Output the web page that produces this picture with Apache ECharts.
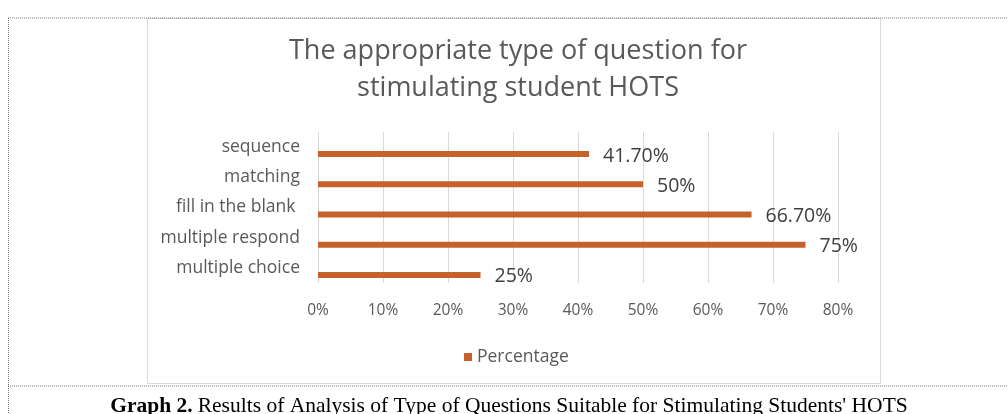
<!DOCTYPE html>
<html>
<head>
<meta charset="utf-8">
<style>
  html, body { margin: 0; padding: 0; background: #fff; }
  #main { width: 1008px; height: 414px; }
</style>
<script src="https://cdn.jsdelivr.net/npm/echarts@6/dist/echarts.min.js"></script>
</head>
<body>
<div id="main"></div>
<script>
// data (bottom to top, as the category axis runs)
var categories = ['multiple choice', 'multiple respond', 'fill in the blank ', 'matching', 'sequence'];
var percentages = [25, 75, 66.7, 50, 41.7];
var valueLabels = ['25%', '75%', '66.70%', '50%', '41.70%'];
var xTicks = [0, 10, 20, 30, 40, 50, 60, 70, 80];
var seriesName = 'Percentage';

var font = '"Open Sans", Lato, sans-serif';
var serif = '"Liberation Serif", serif';
var gray = '#595959';
var barColor = '#c5612a';

var myChart = echarts.init(document.getElementById('main'));

var option = {
	backgroundColor : '#fff',
	animation : false,
	title : [ {
		text : 'The appropriate type of question for\nstimulating student HOTS',
		left : 513,
		top : 28,
		textAlign : 'center',
		textStyle : {
			fontFamily : font,
			fontSize : 27,
			fontWeight : 'normal',
			lineHeight : 37,
			color : gray
		}
	}, {
		text : '{b|Graph 2.} {n|Results of Analysis of Type of Questions Suitable for Stimulating Students\' HOTS}',
		left : 504,
		top : 390,
		textAlign : 'center',
		textStyle : {
			fontWeight : 'normal',
			rich : {
				b : { fontFamily : serif, fontSize : 21.5, fontWeight : 'bold', color : '#000' },
				n : { fontFamily : serif, fontSize : 21.5, fontWeight : 'normal', color : '#000' }
			}
		}
	} ],
	legend : {
		data : [ seriesName ],
		left : 459,
		top : 343,
		icon : 'rect',
		itemWidth : 8,
		itemHeight : 8,
		itemGap : 4,
		textStyle : { fontFamily : font, fontSize : 17.5, color : gray }
	},
	graphic : [ {
		type : 'rect',
		shape : { x : 147.5, y : 18.5, width : 733, height : 365 },
		style : { fill : null, stroke : '#d9d9d9', lineWidth : 1 },
		z : -1
	}, {
		type : 'line',
		shape : { x1 : 8, y1 : 18, x2 : 1008, y2 : 18 },
		style : { stroke : '#777', lineWidth : 1, lineDash : [ 1, 1 ] }
	}, {
		type : 'line',
		shape : { x1 : 8, y1 : 386, x2 : 1008, y2 : 386 },
		style : { stroke : '#777', lineWidth : 1, lineDash : [ 1, 1 ] }
	}, {
		type : 'line',
		shape : { x1 : 8.5, y1 : 18, x2 : 8.5, y2 : 414 },
		style : { stroke : '#777', lineWidth : 1, lineDash : [ 1, 1 ] }
	} ],
	grid : [ {
		left : 318, width : 520, top : 132, height : 151
	}, {
		left : 318, width : 520, top : 139, height : 151
	} ],
	xAxis : [ {
		gridIndex : 0,
		type : 'value',
		min : xTicks[0],
		max : xTicks[xTicks.length - 1],
		interval : 10,
		axisLine : { show : false },
		axisTick : { show : false },
		splitLine : { lineStyle : { color : '#d9d9d9' } },
		axisLabel : {
			formatter : '{value}%',
			margin : 20,
			fontFamily : font,
			fontSize : 15.5,
			color : gray
		}
	}, {
		gridIndex : 1,
		type : 'value',
		min : xTicks[0],
		max : xTicks[xTicks.length - 1],
		show : false
	} ],
	yAxis : [ {
		gridIndex : 0,
		type : 'category',
		data : categories,
		axisLine : { show : false },
		axisTick : { show : false },
		axisLabel : {
			margin : 18,
			fontFamily : font,
			fontSize : 17.5,
			color : gray
		}
	}, {
		gridIndex : 1,
		type : 'category',
		data : categories,
		show : false
	} ],
	series : [ {
		name : seriesName,
		type : 'bar',
		xAxisIndex : 1,
		yAxisIndex : 1,
		barWidth : 6,
		itemStyle : { color : barColor },
		label : {
			show : true,
			position : 'right',
			distance : 14,
			offset : [ 0, 2 ],
			fontFamily : font,
			fontSize : 19.5,
			color : '#404040',
			formatter : function(p) {
				return valueLabels[p.dataIndex];
			}
		},
		data : percentages
	} ]
};
myChart.setOption(option);
</script>
</body>
</html>
